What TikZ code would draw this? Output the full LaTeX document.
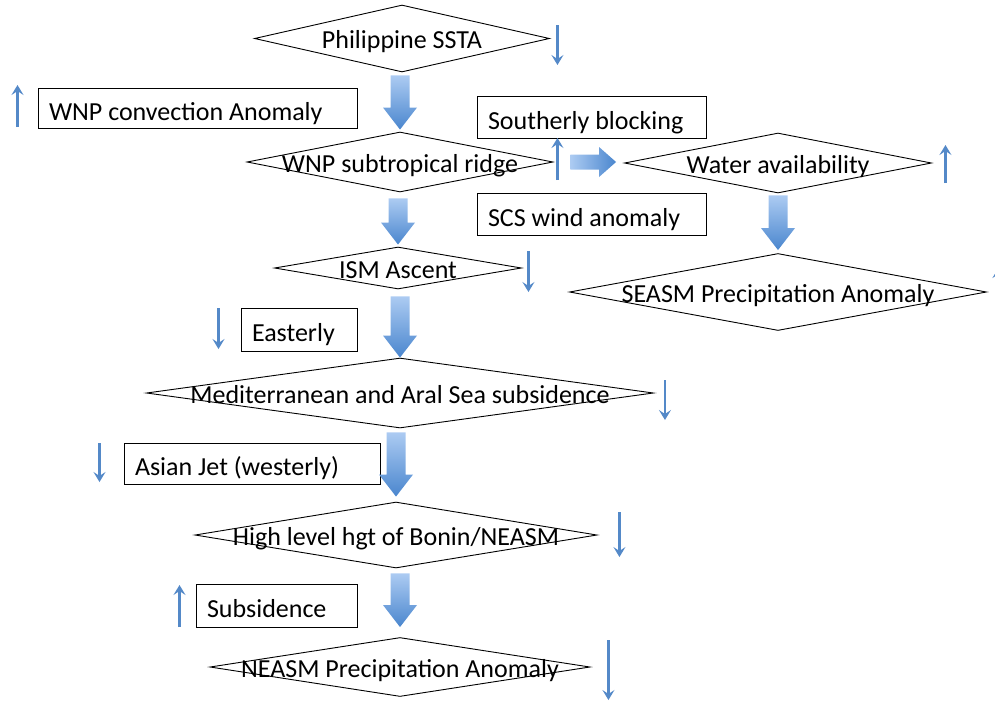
\documentclass[tikz,border=0pt]{standalone}
\usepackage{fontspec}
\setmainfont{Carlito}
\usetikzlibrary{calc}
\usetikzlibrary{shapes.geometric}
\usetikzlibrary{arrows.meta}

\definecolor{tipblue}{RGB}{84,137,200}
\definecolor{arrowlight}{RGB}{172,203,242}
\definecolor{arrowdark}{RGB}{74,134,206}

\tikzset{
  dia/.style 2 args={diamond,draw,line width=0.9pt,inner sep=0pt,
    minimum width=#1,minimum height=#2},
  box/.style 2 args={draw,line width=1pt,inner xsep=11pt,inner ysep=0pt,
    align=flush left,text width=#1pt,text height=24pt,text depth=0pt,minimum height=#2},
  ind/.style={draw=tipblue,line width=2.4pt,-{Stealth[length=10pt,width=12pt,inset=4pt]}},
}

% text of a diamond, taking no room
\newcommand{\dtext}[1]{\makebox[0pt]{\raisebox{-10pt}[0pt][0pt]{#1}}}

% block arrow, down: from node, to node, gap at start, gap at tip
\newcommand{\bigdown}[4]{%
  \path[top color=arrowlight,bottom color=arrowdark]
    let \p1=(#1.south), \p2=(#2.north) in
    (\x2-9.5pt,\y1-#3pt) -- (\x2+9.5pt,\y1-#3pt) -- (\x2+9.5pt,\y2+#4pt+22pt)
    -- (\x2+17pt,\y2+#4pt+22pt) -- (\x2,\y2+#4pt) -- (\x2-17pt,\y2+#4pt+22pt)
    -- (\x2-9.5pt,\y2+#4pt+22pt) -- cycle;}

\begin{document}
\begin{tikzpicture}[x=1pt,y=1pt,>=stealth,font=\fontsize{26}{31}\selectfont]
    \useasboundingbox (0,0) rectangle (995,-702);
    % main chain
    \node[dia={295}{67}]  (phil)  at (402,-38.5) {\dtext{Philippine SSTA}};
    \node[dia={306}{60}]  (ridge) at (400,-162)  {\dtext{WNP subtropical ridge}};
    \node[dia={247}{42}]  (ism)   at (398,-268)  {\dtext{ISM Ascent}};
    \node[dia={507}{70}]  (med)   at (400,-393)  {\dtext{Mediterranean and Aral Sea subsidence}};
    \node[dia={402}{66}]  (high)  at (396,-535)  {\dtext{High level hgt of Bonin/NEASM}};
    \node[dia={380}{59}]  (neasm) at (400,-667)  {\dtext{NEASM Precipitation Anomaly}};
    % right branch
    \node[dia={307}{60}]  (water) at (778,-163)  {\dtext{Water availability}};
    \node[dia={417}{77}]  (seasm) at (778,-292)  {\dtext{SEASM Precipitation Anomaly}};
    %
    \node[box={297}{40}] (conv)  at (197.5,-108) {WNP convection Anomaly};
    \node[box={207}{42}] (south) at (591.5,-117) {Southerly blocking};
    \node[box={207}{42}] (scs)   at (591.5,-214) {SCS wind anomaly};
    \node[box={94}{43}]  (east)  at (299,-329.5) {Easterly};
    \node[box={234}{41}] (jet)   at (252,-463.5) {Asian Jet (westerly)};
    \node[box={139}{43}] (subs)  at (276.5,-605.5) {Subsidence};
    %
    \bigdown{phil}{ridge}{3}{2}
    \bigdown{ridge}{ism}{6}{2}
    \bigdown{ism}{med}{7}{0}
    \bigdown{med}{high}{4}{5}
    \bigdown{high}{neasm}{5}{10}
    \bigdown{water}{seasm}{2}{3}
    \path[left color=arrowlight,right color=arrowdark]
      let \p1=(ridge.east), \p2=(water.west) in
      (\x1+17pt,\y1+7.5pt) -- (\x2-25pt,\y1+7.5pt) -- (\x2-25pt,\y1+15pt)
      -- (\x2-8pt,\y1) -- (\x2-25pt,\y1-15pt) -- (\x2-25pt,\y1-7.5pt)
      -- (\x1+17pt,\y1-7.5pt) -- cycle;
    %
    \draw[ind] ($(phil.east)+(7.5,13.5)$) -- ++(0,-40);
    \draw[ind] ($(conv.west)+(-20,-19)$) -- ++(0,42);
    \draw[ind] ($(ridge.east)+(4,-18)$) -- ++(0,42);
    \draw[ind] ($(water.east)+(13.5,-20)$) -- ++(0,38);
    \draw[ind] ($(seasm.east)+(11.5,-16)$) -- ++(0,40);
    \draw[ind] ($(ism.east)+(6.5,17)$) -- ++(0,-41);
    \draw[ind] ($(east.west)+(-22,21.5)$) -- ++(0,-41);
    \draw[ind] ($(med.east)+(11,13)$) -- ++(0,-40);
    \draw[ind] ($(jet.west)+(-24,20.5)$) -- ++(0,-39);
    \draw[ind] ($(high.east)+(22,23)$) -- ++(0,-45);
    \draw[ind] ($(subs.west)+(-16,-21.5)$) -- ++(0,42);
    \draw[ind] ($(neasm.east)+(18,27)$) -- ++(0,-60);
  \end{tikzpicture}
\end{document}
